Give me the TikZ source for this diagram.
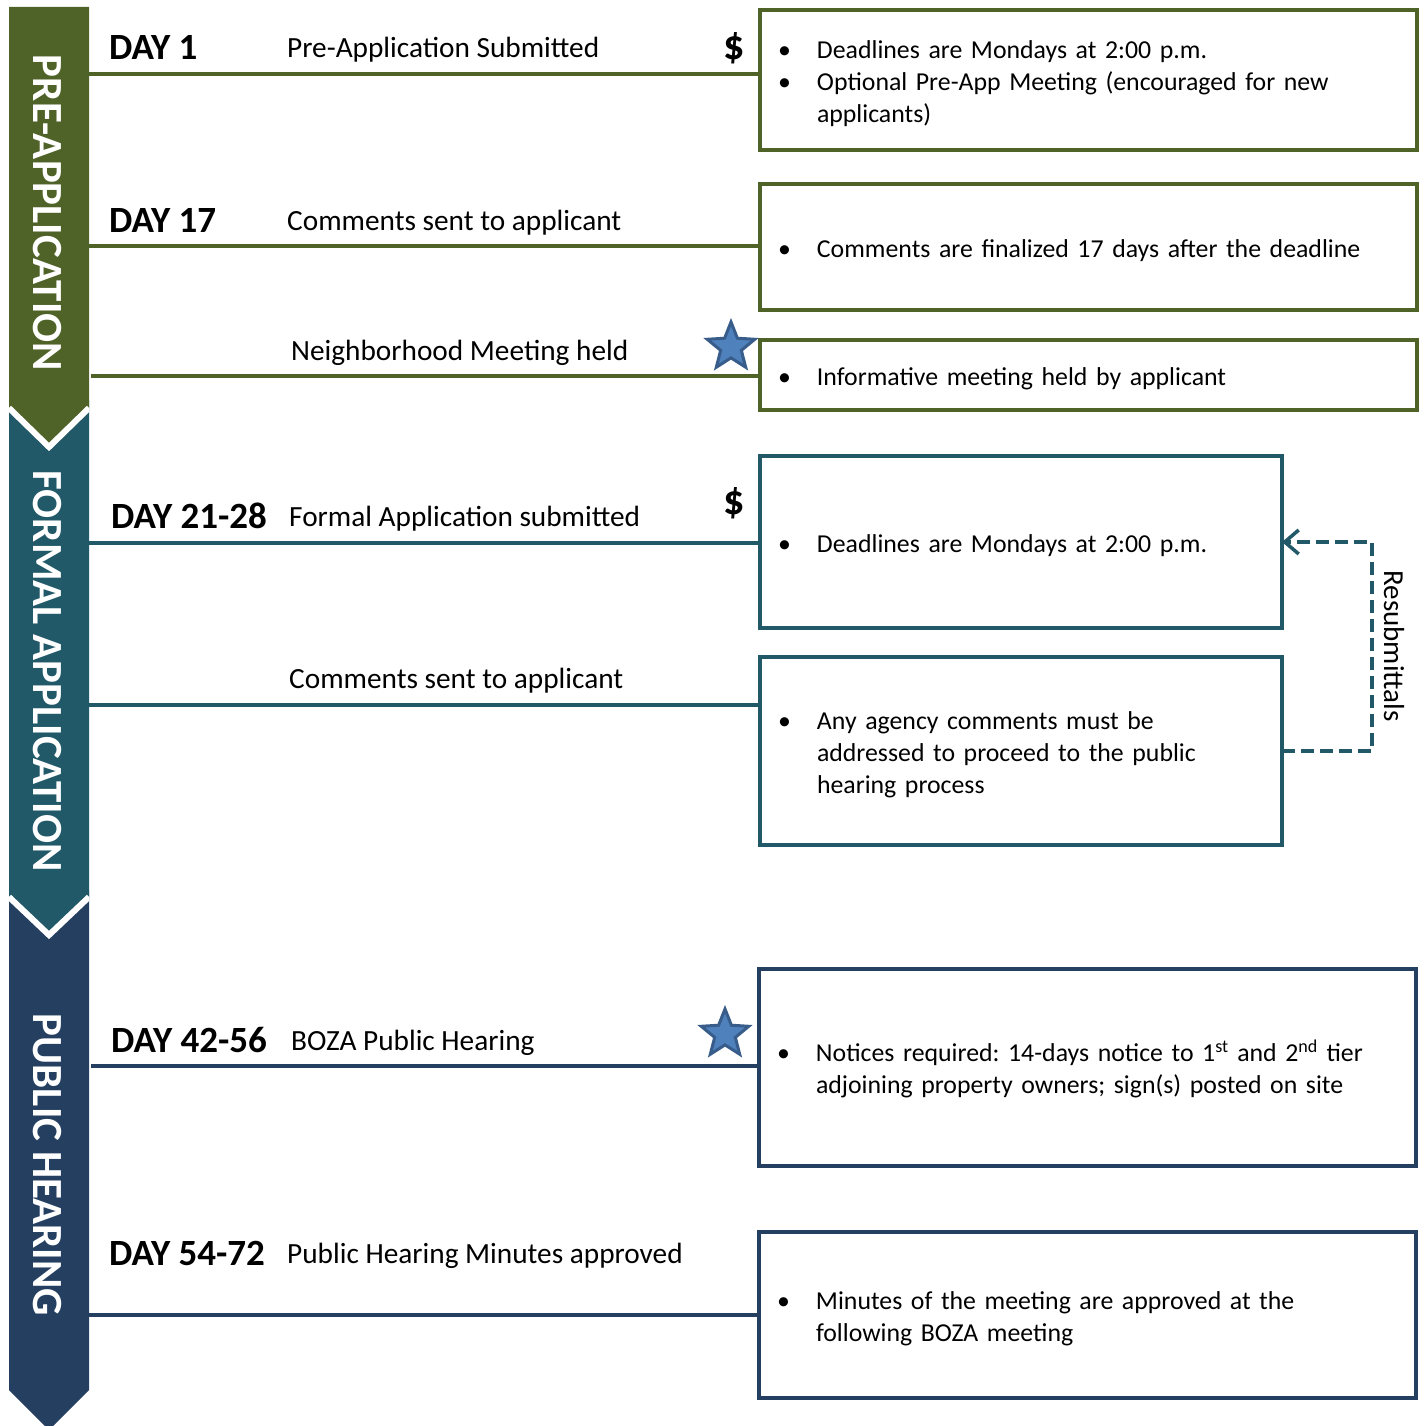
\documentclass[tikz,border=0pt]{standalone}
\usepackage{fontspec}
\setmainfont{Carlito}
\usetikzlibrary{shapes.geometric,arrows.meta}

\definecolor{preGreen}{HTML}{4F6228}
\definecolor{formTeal}{HTML}{215968}
\definecolor{hearNavy}{HTML}{243F60}
\definecolor{starFill}{HTML}{4F81BD}
\definecolor{starLine}{HTML}{385D8A}

\frenchspacing
\newcommand{\blist}[1]{\raisebox{-4pt}[\height][\depth]{\begin{tabular}{@{}p{39pt}@{}l@{}}#1\end{tabular}}}

\tikzset{
    stepline/.style={line width=4pt},
    chevron/.style={white,line width=6pt},
    infobox/.style={draw,line width=4pt,inner xsep=18pt,inner ysep=0pt,outer sep=0pt,
        align=left,font=\fontsize{25.8}{32}\selectfont},
    daylabel/.style={anchor=base west,inner sep=0pt,font=\fontsize{37}{42}\selectfont\bfseries},
    steplabel/.style={anchor=base west,inner sep=0pt,font=\fontsize{29.3}{34}\selectfont},
    bartext/.style={rotate=-90,text=white,font=\fontsize{43}{48}\selectfont\bfseries},
    fee/.style={font=\fontsize{42}{48}\selectfont\bfseries,inner sep=0pt},
    keystar/.style={star,star points=5,star point ratio=2.3,minimum size=50pt,inner sep=0pt,
        fill=starFill,draw=starLine,line width=3pt},
    resub/.style={formTeal,line width=3.5pt,dash pattern=on 13pt off 6pt,
        -{Straight Barb[length=14pt,width=24pt,line width=3.5pt]}},
}

\begin{document}
\begin{tikzpicture}[x=1pt,y=-1pt]
    \useasboundingbox (0,0) rectangle (1424,1426);
    % phase banner
    \fill[hearNavy](9,890)--(89,890)--(89,1390)--(49,1430)--(9,1390)--cycle;
    \fill[formTeal](9,400)--(89,400)--(89,897)--(49,935)--(9,897)--cycle;
    \fill[preGreen](9,7)--(89,7)--(89,408)--(49,447)--(9,408)--cycle;
    \begin{scope}
        \clip(9,0)rectangle(89,1426);
        \draw[chevron](9,408)--(49,447)--(89,408);
        \draw[chevron](9,897)--(49,935)--(89,897);
    \end{scope}
    \node[bartext] (pre) at (47,213) {PRE-APPLICATION};
    \node[bartext] (formal) at (47,671) {FORMAL APPLICATION};
    \node[bartext] (hearing) at (47,1165) {PUBLIC HEARING};

    % info boxes
    \node[infobox,draw=preGreen,text width=621pt,minimum height=140pt] (b1) at (1088.5,80)
        {\blist{\textbullet & Deadlines are Mondays at 2:00 p.m.\\
                \textbullet & Optional Pre-App Meeting (encouraged for new\\
                            & applicants)}};
    \node[infobox,draw=preGreen,text width=621pt,minimum height=126pt] (b2) at (1088.5,247)
        {\blist{\textbullet & Comments are finalized 17 days after the deadline}};
    \node[infobox,draw=preGreen,text width=621pt,minimum height=70pt] (b3) at (1088.5,375)
        {\blist{\textbullet & Informative meeting held by applicant}};
    \node[infobox,draw=formTeal,text width=486pt,minimum height=172pt] (b4) at (1021,542)
        {\blist{\textbullet & Deadlines are Mondays at 2:00 p.m.}};
    \node[infobox,draw=formTeal,text width=486pt,minimum height=188pt] (b5) at (1021,751)
        {\blist{\textbullet & Any agency comments must be\\
                            & addressed to proceed to the public\\
                            & hearing process}};
    \node[infobox,draw=hearNavy,text width=621pt,minimum height=197pt] (b6) at (1087.5,1067.5)
        {\blist{\textbullet & Notices required: 14-days notice to 1\textsuperscript{st} and 2\textsuperscript{nd} tier\\
                            & adjoining property owners; sign(s) posted on site}};
    \node[infobox,draw=hearNavy,text width=621pt,minimum height=166pt] (b7) at (1087.5,1315)
        {\blist{\textbullet & Minutes of the meeting are approved at the\\
                            & following BOZA meeting}};

    % timeline steps
    \foreach \n/\x/\y/\b/\c in {1/89/74/b1/preGreen, 2/89/246/b2/preGreen, 3/91/376/b3/preGreen,
        4/89/543/b4/formTeal, 5/89/705/b5/formTeal, 6/91/1066/b6/hearNavy, 7/89/1315/b7/hearNavy}{
        \coordinate (s\n) at (\x,\y);
        \draw[stepline,\c](s\n)--(s\n -| \b.west);
    }
    \node[daylabel] (d1) at (109,60) {DAY 1};
    \node[steplabel] (t1) at (287,58) {Pre-Application Submitted};
    \node[daylabel] (d2) at (109,232) {DAY 17};
    \node[steplabel] (t2) at (287,230) {Comments sent to applicant};
    \node[steplabel] (t3) at (291,360) {Neighborhood Meeting held};
    \node[daylabel] (d4) at (111,528) {DAY 21-28};
    \node[steplabel] (t4) at (289,526) {Formal Application submitted};
    \node[steplabel] (t5) at (289,688) {Comments sent to applicant};
    \node[daylabel] (d6) at (111,1052) {DAY 42-56};
    \node[steplabel] (t6) at (291,1050) {BOZA Public Hearing};
    \node[daylabel] (d7) at (109,1265) {DAY 54-72};
    \node[steplabel] (t7) at (287,1263) {Public Hearing Minutes approved};

    \node[fee] (fee1) at (734,48) {\$};
    \node[fee] (fee4) at (734,503) {\$};
    \node[keystar] (star3) at (731,347) {};
    \node[keystar] (star6) at (725,1034) {};

    % resubmittal loop
    \draw[resub](b5.east)--++(90,0)|-(b4.east);
    \node[rotate=-90,font=\fontsize{29}{34}\selectfont] (resubtext) at (1394,646) {Resubmittals};
\end{tikzpicture}
\end{document}
